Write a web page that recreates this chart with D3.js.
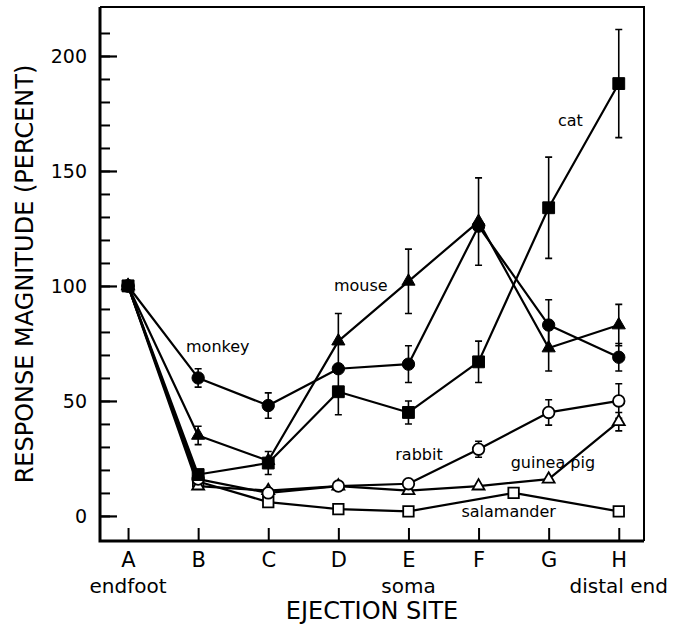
<!DOCTYPE html>
<html>
<head>
<meta charset="utf-8">
<script src="https://cdn.jsdelivr.net/npm/d3@7"></script>
<style>
  html, body { margin: 0; padding: 0; background: #fff; }
  svg text { font-family: "DejaVu Sans", sans-serif; fill: #000; }
</style>
</head>
<body>
<svg id="chart" width="686" height="625"></svg>
<script>
// ejection sites along the cell
const categories = ['A', 'B', 'C', 'D', 'E', 'F', 'G', 'H'];
const siteNotes = ['endfoot', '', '', '', 'soma', '', '', 'distal end'];
const sites = [0, 1, 2, 3, 4, 5, 6, 7];

const yMajorTicks = [0, 50, 100, 150, 200];
const yMinorTicks = d3.range(0, 211, 10);

// response magnitude (percent)
const monkey = [100, 60, 48, 64, 66, 126, 83, 69];
const monkeyErr = [0, 4, 5.5, 0, 8, 0, 11, 6];
const mouse = [100, 35, 24, 76, 102, 128, 73, 83];
const mouseErr = [0, 4, 0, 12, 14, 19, 10, 9];
const cat = [100, 18, 23, 54, 45, 67, 134, 188];
const catErr = [0, 0, 5, 10, 5, 9, 22, 23.5];
const rabbit = [100, 16, 10, 13, 14, 29, 45, 50];
const rabbitErr = [0, 0, 0, 0, 0, 3.5, 5.5, 7.5];
const guineaPig = [100, 13, 11, 13, 11, 13, 16, 41];
const guineaPigErr = [0, 0, 0, 0, 0, 0, 0, 4];
const salamanderSites = [0, 1, 2, 3, 4, 5.5, 7];
const salamander = [100, 15, 6, 3, 2, 10, 2];

// label anchors in data units (site, value)
const labelNames = ['monkey', 'mouse', 'cat', 'rabbit', 'guinea pig', 'salamander'];
const labelSites = [1.28, 3.32, 6.31, 4.15, 6.06, 5.43];
const labelValues = [71.3, 98, 169.6, 24.3, 20.7, -0.6];

const svg = d3.select('#chart');

const plot = { left: 100, right: 644, top: 7, bottom: 541 };

const x = d3.scaleLinear()
    .domain([-0.4, 7.36])
    .range([plot.left, plot.right]);

const y = d3.scaleLinear()
    .domain([-10.9, 221.3])
    .range([plot.bottom, plot.top]);

const zip = (xs, ys, es) => xs.map((s, i) => ({ s, v: ys[i], e: es ? es[i] : 0 }));

// draw order: open markers underneath, cat on top
const series = [
    { name: 'salamander', data: zip(salamanderSites, salamander), shape: d3.symbolSquare, filled: false, size: 110 },
    { name: 'guinea pig', data: zip(sites, guineaPig, guineaPigErr), shape: d3.symbolTriangle, filled: false, size: 62 },
    { name: 'rabbit', data: zip(sites, rabbit, rabbitErr), shape: d3.symbolCircle, filled: false, size: 105 },
    { name: 'monkey', data: zip(sites, monkey, monkeyErr), shape: d3.symbolCircle, filled: true, size: 120 },
    { name: 'mouse', data: zip(sites, mouse, mouseErr), shape: d3.symbolTriangle, filled: true, size: 75 },
    { name: 'cat', data: zip(sites, cat, catErr), shape: d3.symbolSquare, filled: true, size: 140 },
];

// y axis: minor + major ticks pointing inward
svg.append('g')
    .attr('transform', `translate(${plot.left},0)`)
    .call(d3.axisLeft(y).tickValues(yMinorTicks).tickSize(-10).tickFormat(''))
    .call(g => g.select('.domain').remove())
    .call(g => g.selectAll('line').attr('stroke', '#000').attr('stroke-width', 2));

svg.append('g')
    .attr('transform', `translate(${plot.left},0)`)
    .call(d3.axisLeft(y).tickValues(yMajorTicks).tickSize(-17).tickPadding(13))
    .call(g => g.select('.domain').remove())
    .call(g => g.selectAll('line').attr('stroke', '#000').attr('stroke-width', 2.2))
    .call(g => g.selectAll('text').attr('font-size', '19px').attr('fill', '#000'));

// x axis: category ticks
svg.append('g')
    .attr('transform', `translate(0,${plot.bottom})`)
    .call(d3.axisBottom(x).tickValues(sites).tickSize(-13).tickPadding(11).tickFormat(i => categories[i]))
    .call(g => g.select('.domain').remove())
    .call(g => g.selectAll('line').attr('stroke', '#000').attr('stroke-width', 2))
    .call(g => g.selectAll('text').attr('font-size', '21px').attr('fill', '#000'));

svg.append('g')
    .selectAll('text')
    .data(sites.filter(i => siteNotes[i]))
    .join('text')
    .attr('x', i => x(i))
    .attr('y', 593)
    .attr('text-anchor', 'middle')
    .attr('font-size', '20px')
    .text(i => siteNotes[i]);

// frame
svg.append('path')
    .attr('d', `M${plot.left},${plot.top}H${plot.right}V${plot.bottom}`)
    .attr('fill', 'none')
    .attr('stroke', '#000')
    .attr('stroke-width', 2);

svg.append('path')
    .attr('d', `M${plot.left},${plot.top}V${plot.bottom}H${plot.right}`)
    .attr('fill', 'none')
    .attr('stroke', '#000')
    .attr('stroke-width', 3);

// lines
const line = d3.line()
    .x(d => x(d.s))
    .y(d => y(d.v));

svg.append('g')
    .selectAll('path')
    .data(series)
    .join('path')
    .attr('d', d => line(d.data))
    .attr('fill', 'none')
    .attr('stroke', '#000')
    .attr('stroke-width', 2.2)
    .attr('stroke-linejoin', 'round');

// error bars
const bars = series.flatMap(sr => sr.data.filter(d => d.e > 0));
const cap = 3.5;

svg.append('g')
    .selectAll('path')
    .data(bars)
    .join('path')
    .attr('d', d => {
        const cx = x(d.s), y1 = y(d.v + d.e), y2 = y(d.v - d.e);
        return `M${cx},${y1}V${y2}M${cx - cap},${y1}H${cx + cap}M${cx - cap},${y2}H${cx + cap}`;
    })
    .attr('fill', 'none')
    .attr('stroke', '#000')
    .attr('stroke-width', 1.6);

// markers
series.forEach(sr => {
    svg.append('g')
        .selectAll('path')
        .data(sr.data)
        .join('path')
        .attr('transform', d => `translate(${x(d.s)},${y(d.v)})`)
        .attr('d', d3.symbol().type(sr.shape).size(sr.size))
        .attr('fill', sr.filled ? '#000' : '#fff')
        .attr('stroke', '#000')
        .attr('stroke-width', sr.filled ? 1 : 1.8);
});

// series labels
svg.append('g')
    .selectAll('text')
    .data(labelNames)
    .join('text')
    .attr('x', (d, i) => x(labelSites[i]))
    .attr('y', (d, i) => y(labelValues[i]))
    .attr('text-anchor', 'middle')
    .attr('font-size', '16px')
    .text(d => d);

// axis titles
svg.append('text')
    .attr('x', (plot.left + plot.right) / 2)
    .attr('y', 619)
    .attr('text-anchor', 'middle')
    .attr('font-size', '24px')
    .text('EJECTION SITE');

svg.append('text')
    .attr('transform', `translate(33,${(plot.top + plot.bottom) / 2}) rotate(-90)`)
    .attr('text-anchor', 'middle')
    .attr('font-size', '24px')
    .text('RESPONSE MAGNITUDE (PERCENT)');
</script>
</body>
</html>
